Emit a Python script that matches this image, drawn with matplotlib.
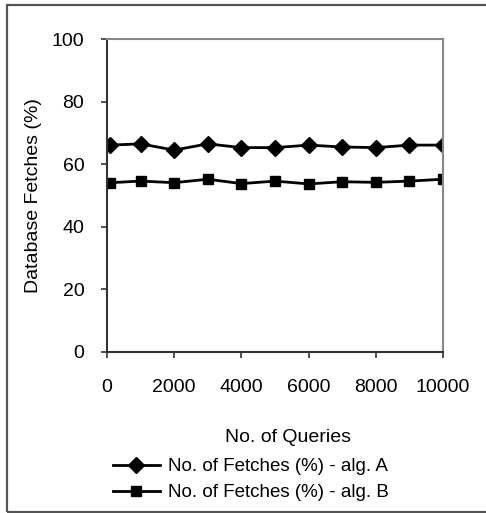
import matplotlib
matplotlib.use("Agg")
import matplotlib.pyplot as plt
from matplotlib.patches import Rectangle

queries = [100, 1000, 2000, 3000, 4000, 5000, 6000, 7000, 8000, 9000, 10000]
alg_a = [66.1, 66.5, 64.5, 66.5, 65.3, 65.3, 66.1, 65.5, 65.3, 66.1, 66.1]
alg_b = [54.1, 54.6, 54.1, 55.2, 53.8, 54.6, 53.7, 54.4, 54.2, 54.6, 55.2]
xticks = [0, 2000, 4000, 6000, 8000, 10000]
yticks = [0, 20, 40, 60, 80, 100]
label_a = "No. of Fetches (%) - alg. A"
label_b = "No. of Fetches (%) - alg. B"

plt.rcParams['font.family'] = ['Liberation Sans', 'DejaVu Sans']

W, H = 486, 513
fig = plt.figure(figsize=(W / 100, H / 100), dpi=100)
ax = fig.add_axes([107 / W, 1 - 352 / H, (443 - 107) / W, (352 - 39) / H])

la, = ax.plot(queries, alg_a, color='black', lw=2, marker='D', markersize=8.5, label=label_a)
lb, = ax.plot(queries, alg_b, color='black', lw=2, marker='s', markersize=6.5, label=label_b)

ax.set_xlim(0, 10000)
ax.set_ylim(0, 100)
ax.set_xticks(xticks)
ax.set_yticks(yticks)
ax.tick_params(axis='both', direction='out', length=4.3, width=1.2, color='#333333', labelsize=14)
ax.tick_params(axis='x', pad=15)
ax.tick_params(axis='y', pad=12)
for s in ['left', 'bottom']:
    ax.spines[s].set_color('#333333')
    ax.spines[s].set_linewidth(1.5)
for s in ['top', 'right']:
    ax.spines[s].set_color('#888888')
    ax.spines[s].set_linewidth(1.5)

ax.set_ylabel("Database Fetches (%)", fontsize=14)
ax.yaxis.set_label_coords((42 - 107) / 336, 0.5)
fig.text(288 / W, 1 - 437 / H, "No. of Queries", fontsize=14, ha='center', va='center')

leg = fig.legend(handles=[la, lb], loc='upper left', bbox_to_anchor=(113 / W, 1 - 458 / H),
                 frameon=False, fontsize=13.5, handlelength=2.5, handletextpad=0.43,
                 labelspacing=0.48, borderpad=0, borderaxespad=0)

fig.patches.append(Rectangle((7 / W, 1.5 / H), 1.2, (H - 6.5) / H, transform=fig.transFigure,
                             fill=False, edgecolor='#555555', lw=1.6))

fig.savefig("out.png", dpi=100)
